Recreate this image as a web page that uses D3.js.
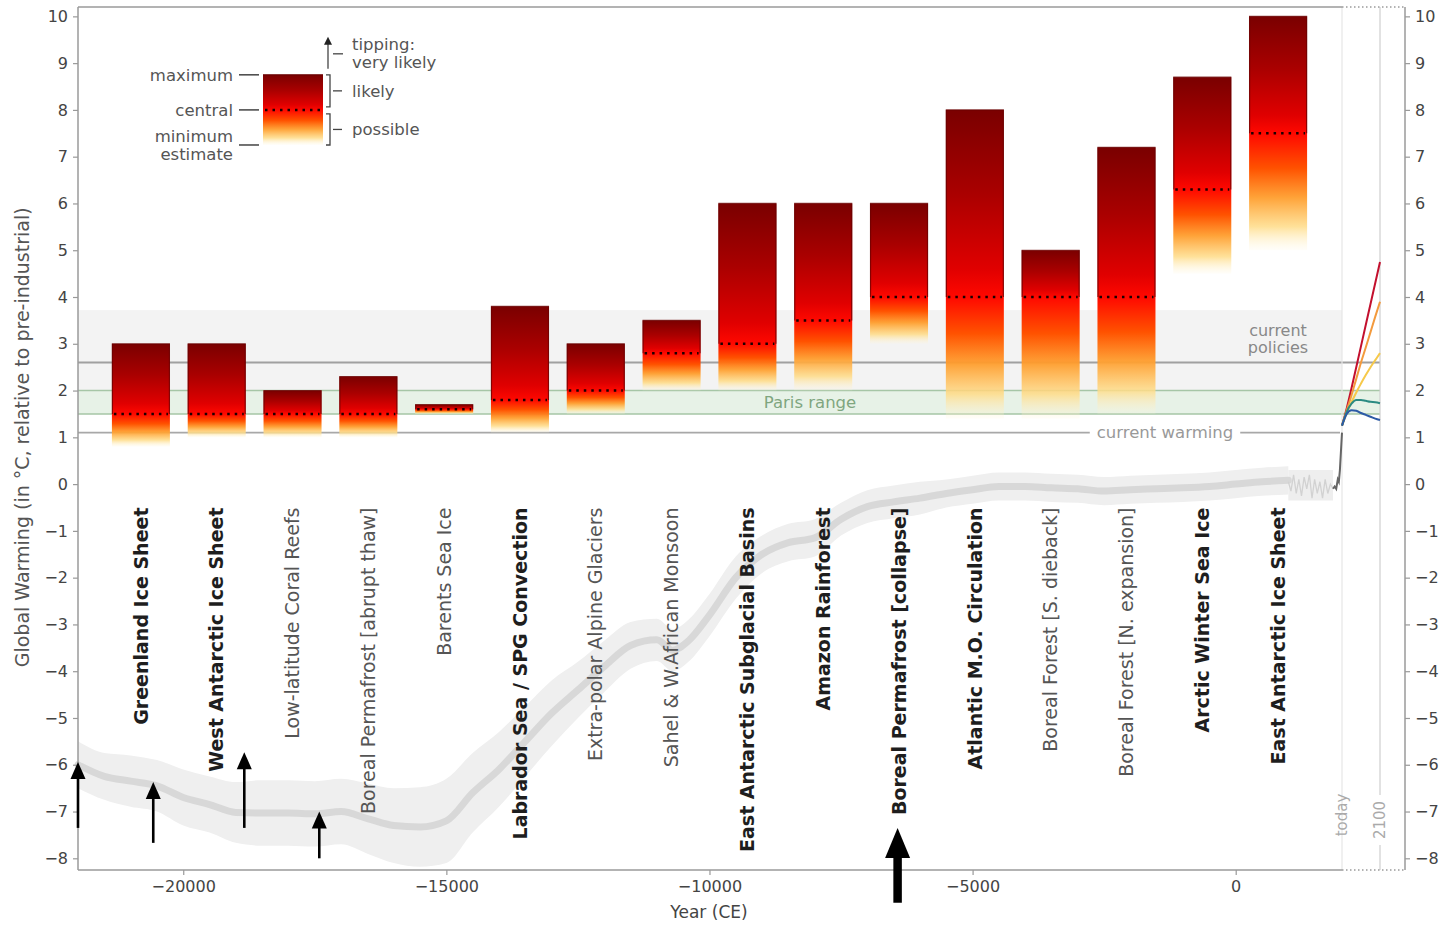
<!DOCTYPE html>
<html><head><meta charset="utf-8">
<script src="https://cdn.jsdelivr.net/npm/d3@7"></script>
<style>body{margin:0;background:#fff} svg{display:block} text{font-family:"DejaVu Sans",sans-serif}</style>
</head><body><svg id="c" width="1440" height="926"></svg>
<script>
// ---------- DATA ----------
const categories = ["Greenland Ice Sheet","West Antarctic Ice Sheet","Low-latitude Coral Reefs","Boreal Permafrost [abrupt thaw]","Barents Sea Ice","Labrador Sea / SPG Convection","Extra-polar Alpine Glaciers","Sahel & W.African Monsoon","East Antarctic Subglacial Basins","Amazon Rainforest","Boreal Permafrost [collapse]","Atlantic M.O. Circulation","Boreal Forest [S. dieback]","Boreal Forest [N. expansion]","Arctic Winter Sea Ice","East Antarctic Ice Sheet"];
const isCore = [true,true,false,false,false,true,false,false,true,true,true,true,false,false,true,true];
const centralVals = [1.5,1.5,1.5,1.5,1.6,1.8,2.0,2.8,3.0,3.5,4.0,4.0,4.0,4.0,6.3,7.5];
const minVals     = [0.8,1.0,1.0,1.0,1.5,1.1,1.5,2.0,2.0,2.0,3.0,1.4,1.4,1.5,4.5,5.0];
const maxVals     = [3.0,3.0,2.0,2.3,1.7,3.8,3.0,3.5,6.0,6.0,6.0,8.0,5.0,7.2,8.7,10.0];

const yTicks = [-8,-7,-6,-5,-4,-3,-2,-1,0,1,2,3,4,5,6,7,8,9,10];
const xTicks = [-20000,-15000,-10000,-5000,0];

// temperature reconstruction (year, mean, half-width of uncertainty)
const reconYears = [-22000,-21500,-21000,-20500,-20000,-19500,-19000,-18500,-18000,-17500,-17000,-16500,-16000,-15500,-15000,-14500,-14000,-13500,-13000,-12500,-12000,-11500,-11000,-10700,-10400,-10000,-9500,-9000,-8500,-8000,-7500,-7000,-6500,-6000,-5500,-5000,-4500,-4000,-3500,-3000,-2500,-2000,-1500,-1000,-500,0,500,1000];
const reconMean  = [-6.0,-6.25,-6.35,-6.45,-6.7,-6.85,-7.02,-7.03,-7.03,-7.05,-7.0,-7.15,-7.3,-7.33,-7.2,-6.6,-6.1,-5.5,-4.9,-4.4,-3.9,-3.45,-3.33,-3.55,-3.35,-2.8,-2.0,-1.5,-1.25,-1.15,-0.75,-0.48,-0.38,-0.3,-0.2,-0.12,-0.05,-0.05,-0.08,-0.1,-0.15,-0.12,-0.1,-0.08,-0.05,0.0,0.05,0.08];
const reconHalf  = [0.5,0.5,0.55,0.55,0.6,0.6,0.65,0.7,0.7,0.7,0.7,0.75,0.8,0.85,0.9,0.85,0.8,0.75,0.7,0.6,0.55,0.5,0.45,0.45,0.45,0.45,0.45,0.4,0.4,0.4,0.35,0.35,0.35,0.35,0.3,0.3,0.3,0.3,0.3,0.3,0.3,0.3,0.3,0.3,0.3,0.3,0.3,0.3];

// last millennium (noisy) and instrumental
const mill2Years = [1000,1050,1100,1150,1200,1250,1300,1350,1400,1450,1500,1550,1600,1650,1700,1750,1800,1850];
const mill2Vals  = [0.05,-0.15,0.2,-0.2,0.1,-0.25,0.15,-0.1,0.2,-0.3,0.1,-0.2,0.05,-0.3,0.1,-0.2,0.0,-0.1];
const instYears = [1850,1880,1910,1940,1960,1980,2000,2010,2020];
const instVals  = [-0.1,-0.05,-0.1,0.1,0.05,0.3,0.7,0.9,1.1];

// scenario projections 2020-2100
const projYears = [2020,2030,2040,2050,2060,2070,2080,2090,2100];
const ssp585 = [1.25,1.62,2.05,2.5,2.95,3.4,3.85,4.3,4.75];
const ssp370 = [1.25,1.58,1.9,2.25,2.6,2.92,3.25,3.58,3.9];
const ssp245 = [1.25,1.52,1.75,1.96,2.15,2.33,2.5,2.65,2.8];
const ssp126 = [1.25,1.55,1.72,1.8,1.8,1.78,1.76,1.75,1.73];
const ssp119 = [1.25,1.5,1.58,1.57,1.52,1.48,1.44,1.4,1.37];
const projNames = ["SSP5-8.5","SSP3-7.0","SSP2-4.5","SSP1-2.6","SSP1-1.9"];

// reference levels
const currentWarming = 1.1;
const currentPolicies = 2.6;
const policiesBand = [2.0, 3.72];
const parisRange = [1.5, 2.0];

// black arrows (year, from, to)
const arrowYears = [-22000,-20570,-18840,-17415,-6425];
const arrowFrom  = [-7.35,-7.67,-7.35,-8.0,-8.95];
const arrowTo    = [-5.94,-6.37,-5.73,-7.0,-7.35];
const arrowBig   = [false,false,false,false,true];

// legend example values
const legendMax = 8.75, legendCentral = 8.0, legendMin = 7.25;

// ---------- LAYOUT ----------
const svg = d3.select("#c");
const L=78, T=7, B=870, xToday=1342, x2100=1380, R=1405;
const y = d3.scaleLinear().domain([-8.25,10.2]).range([B,T]);
const x = d3.scaleLinear().domain([-22000,2020]).range([L,xToday]);
const xf = d3.scaleLinear().domain([2020,2100]).range([xToday,x2100]);
const xb = d3.scaleBand().domain(categories).range([103,1316]).paddingInner(0.235).paddingOuter(0.1175);
const fmt = d => d<0 ? "\u2212"+(-d) : String(d);
const defs = svg.append("defs");

function makeGrad(id, y0, y1, yc){
  const c = (yc-y0)/(y1-y0);
  const g = defs.append("linearGradient").attr("id",id).attr("gradientUnits","userSpaceOnUse")
    .attr("x1",0).attr("x2",0).attr("y1",y0).attr("y2",y1);
  const stops = [
    [0,"#7a0000",1],[c*0.45,"#aa0000",1],[c*0.85,"#e00000",1],[c,"#ff0800",1],
    [c+(1-c)*0.3,"#ff5200",1],[c+(1-c)*0.55,"#ff9e2e",0.95],[c+(1-c)*0.8,"#ffdc88",0.85],[1,"#fff6d8",0.15]];
  stops.forEach(s=>g.append("stop").attr("offset",s[0]).attr("stop-color",s[1]).attr("stop-opacity",s[2]));
}

// background bands
svg.append("rect").attr("x",L).attr("width",xToday-L).attr("y",y(policiesBand[1])).attr("height",y(policiesBand[0])-y(policiesBand[1])).attr("fill","#f3f3f3");
svg.append("rect").attr("x",L).attr("width",x2100-L).attr("y",y(parisRange[1])).attr("height",y(parisRange[0])-y(parisRange[1])).attr("fill","#e7f2e7");
parisRange.forEach(v=>svg.append("line").attr("x1",L).attr("x2",x2100).attr("y1",y(v)).attr("y2",y(v)).attr("stroke","#a6c6a6").attr("stroke-width",1.6));
svg.append("line").attr("x1",L).attr("x2",x2100).attr("y1",y(currentPolicies)).attr("y2",y(currentPolicies)).attr("stroke","#a0a0a0").attr("stroke-width",2);

// today / 2100 vertical lines
svg.append("line").attr("x1",xToday).attr("x2",xToday).attr("y1",T).attr("y2",B).attr("stroke","#e6e6e6").attr("stroke-width",1.2);
svg.append("line").attr("x1",x2100).attr("x2",x2100).attr("y1",T).attr("y2",B).attr("stroke","#cfcfcf").attr("stroke-width",1.2);

// current warming line with label gap
const cwY = y(currentWarming);
svg.append("line").attr("x1",L).attr("x2",xToday-2).attr("y1",cwY).attr("y2",cwY).attr("stroke","#a8a8a8").attr("stroke-width",1.8);
const cwT = svg.append("text").attr("x",1165).attr("y",cwY).attr("dy","0.35em").attr("text-anchor","middle").attr("font-size",16.5).attr("fill","#999").text("current warming");
const bb = cwT.node().getBBox();
svg.insert("rect","text").attr("x",bb.x-7).attr("y",bb.y).attr("width",bb.width+14).attr("height",bb.height).attr("fill","#fff");

svg.append("text").attr("x",810).attr("y",y(1.75)).attr("dy","0.35em").attr("text-anchor","middle").attr("font-size",16.5).attr("fill","#7fa67f").text("Paris range");
const cp = svg.append("text").attr("text-anchor","middle").attr("font-size",16).attr("fill","#888");
cp.append("tspan").attr("x",1278).attr("y",336).text("current");
cp.append("tspan").attr("x",1278).attr("y",353).text("policies");

// reconstruction
const recon = reconYears.map((d,i)=>({yr:d,m:reconMean[i],h:reconHalf[i]}));
svg.append("path").datum(recon).attr("fill","#efefef")
  .attr("d",d3.area().x(d=>x(d.yr)).y0(d=>y(d.m-d.h)).y1(d=>y(d.m+d.h)).curve(d3.curveMonotoneX));
const mill = mill2Years.map((d,i)=>({yr:d,v:mill2Vals[i]}));
svg.append("path").datum(mill).attr("fill","#eeeeee")
  .attr("d",d3.area().x(d=>x(d.yr)).y0(d=>y(-0.35)).y1(d=>y(0.3)));
svg.append("path").datum(recon).attr("fill","none").attr("stroke","#d8d8d8").attr("stroke-width",7).attr("stroke-linecap","round")
  .attr("d",d3.line().x(d=>x(d.yr)).y(d=>y(d.m)).curve(d3.curveMonotoneX));
svg.append("path").datum(mill).attr("fill","none").attr("stroke","#d2d2d2").attr("stroke-width",1.3)
  .attr("d",d3.line().x(d=>x(d.yr)).y(d=>y(d.v)));
const inst = instYears.map((d,i)=>({yr:d,v:instVals[i]}));
svg.append("path").datum(inst).attr("fill","none").attr("stroke","#666").attr("stroke-width",2)
  .attr("d",d3.line().x(d=>x(d.yr)).y(d=>y(d.v)));

// projections
const projColors = ["#c3102e","#f39a3d","#f6c94a","#2b8a82","#2c5aa6"];
[ssp585,ssp370,ssp245,ssp126,ssp119].forEach((s,k)=>{
  svg.append("path").datum(projYears.map((d,i)=>({yr:d,v:s[i]}))).attr("fill","none")
    .attr("stroke",projColors[k]).attr("stroke-width",2).attr("class",projNames[k])
    .attr("d",d3.line().x(d=>xf(d.yr)).y(d=>y(d.v)).curve(d3.curveMonotoneX));
});

// bars
categories.forEach((c,i)=>{
  const x0 = xb(c), w = xb.bandwidth();
  const yMax = y(maxVals[i]), yMin = y(minVals[i]), yC = y(centralVals[i]);
  makeGrad("g"+i, yMax, yMin, yC);
  svg.append("rect").attr("x",x0).attr("width",w).attr("y",yMax).attr("height",yMin-yMax).attr("fill","url(#g"+i+")");
  svg.append("path").attr("d",`M${x0+0.5},${yC}V${yMax}H${x0+w-0.5}V${yC}`).attr("fill","none").attr("stroke","#6a0000").attr("stroke-opacity",0.75).attr("stroke-width",1.2);
  svg.append("line").attr("x1",x0+2).attr("x2",x0+w-2).attr("y1",yC).attr("y2",yC).attr("stroke","#1a0000").attr("stroke-width",2.5).attr("stroke-dasharray","2.5 5");
  svg.append("text").attr("transform",`translate(${x0+w/2},${y(-0.5)}) rotate(-90)`).attr("dy","0.35em")
    .attr("text-anchor","end").attr("font-size",19).attr("font-weight",isCore[i]?"bold":"normal")
    .attr("fill",isCore[i]?"#1e1e1e":"#555").text(c);
});

// legend
const lx0 = 263, lw = 60;
makeGrad("gl", y(legendMax), y(legendMin), y(legendCentral));
svg.append("rect").attr("x",lx0).attr("width",lw).attr("y",y(legendMax)).attr("height",y(legendMin)-y(legendMax)).attr("fill","url(#gl)");
svg.append("line").attr("x1",lx0).attr("x2",lx0+lw).attr("y1",y(legendMax)).attr("y2",y(legendMax)).attr("stroke","#6a0000").attr("stroke-width",1.2);
svg.append("line").attr("x1",lx0+2).attr("x2",lx0+lw-2).attr("y1",y(legendCentral)).attr("y2",y(legendCentral)).attr("stroke","#1a0000").attr("stroke-width",2.5).attr("stroke-dasharray","2.5 5");
const lg = svg.append("g").attr("font-size",16.5).attr("fill","#555");
const lcol = "#444";
[[legendMax,["maximum"]],[legendCentral,["central"]],[legendMin,["minimum","estimate"]]].forEach(([v,lines])=>{
  svg.append("line").attr("x1",239).attr("x2",259).attr("y1",y(v)).attr("y2",y(v)).attr("stroke",lcol).attr("stroke-width",1.5);
  const t = lg.append("text").attr("text-anchor","end");
  const off = lines.length===1 ? 0 : -9;
  lines.forEach((s,j)=>t.append("tspan").attr("x",233).attr("y",y(v)+off+j*18).attr("dy","0.35em").text(s));
});
function bracket(ya, yb){
  const bx = 330;
  svg.append("path").attr("d",`M${bx-4},${ya}H${bx}V${yb}H${bx-4}`).attr("fill","none").attr("stroke",lcol).attr("stroke-width",1.3);
  svg.append("line").attr("x1",bx+3).attr("x2",bx+12).attr("y1",(ya+yb)/2).attr("y2",(ya+yb)/2).attr("stroke",lcol).attr("stroke-width",1.3);
  return (ya+yb)/2;
}
const m1 = bracket(y(legendMax), y(legendCentral)-3);
const m2 = bracket(y(legendCentral)+4, y(legendMin));
lg.append("text").attr("x",352).attr("y",m1).attr("dy","0.35em").text("likely");
lg.append("text").attr("x",352).attr("y",m2).attr("dy","0.35em").text("possible");
svg.append("line").attr("x1",328).attr("x2",328).attr("y1",y(legendMax)-6).attr("y2",y(legendMax)-31).attr("stroke",lcol).attr("stroke-width",1.3);
svg.append("path").attr("d",`M324,${y(legendMax)-30}L328,${y(legendMax)-38}L332,${y(legendMax)-30}Z`).attr("fill","#222");
svg.append("line").attr("x1",333).attr("x2",343).attr("y1",y(legendMax)-21).attr("y2",y(legendMax)-21).attr("stroke",lcol).attr("stroke-width",1.3);
const tp = lg.append("text");
tp.append("tspan").attr("x",352).attr("y",y(legendMax)-31).attr("dy","0.35em").text("tipping:");
tp.append("tspan").attr("x",352).attr("y",y(legendMax)-13).attr("dy","0.35em").text("very likely");

// axes
const axL = svg.append("g").attr("transform",`translate(${L},0)`).call(d3.axisLeft(y).tickValues(yTicks).tickSize(5).tickPadding(5).tickFormat(fmt));
const axR = svg.append("g").attr("transform",`translate(${R},0)`).call(d3.axisRight(y).tickValues(yTicks).tickSize(5).tickPadding(5).tickFormat(fmt));
const axB = svg.append("g").attr("transform",`translate(0,${B})`).call(d3.axisBottom(x).tickValues(xTicks).tickSize(5).tickPadding(6).tickFormat(fmt));
[axL,axR,axB].forEach(a=>{
  a.select(".domain").remove();
  a.selectAll(".tick line").attr("stroke","#999").attr("stroke-width",1.2);
  a.selectAll(".tick text").attr("font-size",16).attr("fill","#444").attr("font-family","DejaVu Sans");
});
const sp = "#9a9a9a";
svg.append("line").attr("x1",L).attr("x2",L).attr("y1",T).attr("y2",B).attr("stroke",sp).attr("stroke-width",1.5);
svg.append("line").attr("x1",R).attr("x2",R).attr("y1",T).attr("y2",B).attr("stroke",sp).attr("stroke-width",1.5);
[T,B].forEach(yy=>{
  svg.append("line").attr("x1",L).attr("x2",xToday).attr("y1",yy).attr("y2",yy).attr("stroke",sp).attr("stroke-width",1.5);
  svg.append("line").attr("x1",xToday).attr("x2",R).attr("y1",yy).attr("y2",yy).attr("stroke",sp).attr("stroke-width",1.5).attr("stroke-dasharray","1.5 2.5");
});

// today / 2100 labels
svg.append("text").attr("transform",`translate(${xToday},815) rotate(-90)`).attr("dy","0.35em").attr("text-anchor","middle").attr("font-size",15).attr("fill","#aaa").text("today");
const t21 = svg.append("text").attr("transform",`translate(${x2100},820) rotate(-90)`).attr("dy","0.35em").attr("text-anchor","middle").attr("font-size",15).attr("fill","#aaa").text("2100");
svg.insert("rect",()=>t21.node()).attr("x",x2100-3).attr("y",795).attr("width",6).attr("height",50).attr("fill","#fff");

// axis labels
svg.append("text").attr("x",(L+xToday)/2-1).attr("y",912).attr("dy","0.35em").attr("text-anchor","middle").attr("font-size",17).attr("fill","#444").text("Year (CE)");
svg.append("text").attr("transform",`translate(22,${y(1)}) rotate(-90)`).attr("dy","0.35em").attr("text-anchor","middle").attr("font-size",19).attr("fill","#555").text("Global Warming (in \u00B0C, relative to pre-industrial)");

// black arrows
arrowYears.forEach((yr,i)=>{
  const ax = x(yr), y0 = y(arrowFrom[i]), y1 = y(arrowTo[i]);
  const big = arrowBig[i];
  const hw = big?12.5:7.5, hl = big?30:17, sw = big?8.5:2.6;
  svg.append("line").attr("x1",ax).attr("x2",ax).attr("y1",y0).attr("y2",y1+hl-2).attr("stroke","#000").attr("stroke-width",sw);
  svg.append("path").attr("d",`M${ax-hw},${y1+hl}L${ax},${y1}L${ax+hw},${y1+hl}Z`).attr("fill","#000");
});
</script></body></html>
